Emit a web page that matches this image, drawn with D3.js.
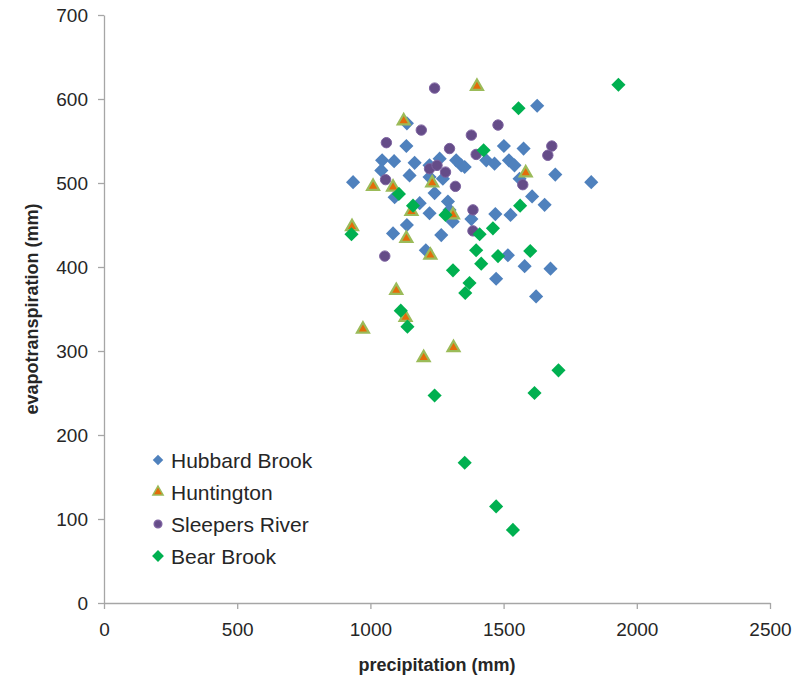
<!DOCTYPE html>
<html>
<head>
<meta charset="utf-8">
<script src="https://cdn.jsdelivr.net/npm/d3@7"></script>
<style>
  body { margin: 0; background: #fff; }
  text { font-family: "Liberation Sans", Arial, sans-serif; fill: #262626; }
</style>
</head>
<body>
<script>
const WIDTH = 802;
const HEIGHT = 680;

// plot box (pixels)
const LEFT = 104, RIGHT = 770, TOP = 15, BOTTOM = 603;

const xTicks = [0, 500, 1000, 1500, 2000, 2500];
const yTicks = [0, 100, 200, 300, 400, 500, 600, 700];

const seriesNames = ["Hubbard Brook", "Huntington", "Sleepers River", "Bear Brook"];

// [precipitation, evapotranspiration] in mm
const hubbardBrook = [
  [1137, 571], [1135, 544], [1044, 527], [1089, 526], [1166, 524], [1260, 529],
  [1222, 521], [1322, 527], [1341, 521], [1354, 519], [1435, 527], [1466, 523],
  [1520, 527], [1541, 521], [1501, 544], [1575, 541], [1626, 592], [1041, 515],
  [1147, 509], [1222, 507], [1272, 505], [935, 501], [1091, 483], [1241, 488],
  [1185, 476], [1291, 478], [1222, 464], [1297, 468], [1469, 463], [1526, 462],
  [1137, 450], [1379, 457], [1309, 454], [1560, 505], [1694, 510], [1829, 501],
  [1607, 484], [1654, 474], [1085, 440], [1266, 438], [1208, 420], [1516, 414],
  [1579, 401], [1676, 398], [1472, 386], [1622, 365]
];
const huntington = [
  [1400, 615], [1125, 574], [1010, 496], [1085, 495], [1232, 500], [1154, 466],
  [1310, 462], [931, 448], [1135, 434], [1225, 414], [1097, 372], [1132, 340],
  [972, 326], [1312, 304], [1200, 292], [1583, 512]
];
const sleepersRiver = [
  [1241, 613], [1191, 563], [1479, 569], [1379, 557], [1060, 548], [1297, 541],
  [1397, 534], [1681, 544], [1666, 533], [1222, 517], [1250, 521], [1282, 513],
  [1057, 504], [1319, 496], [1385, 468], [1572, 498], [1385, 443], [1054, 413]
];
const bearBrook = [
  [1931, 617], [1556, 589], [1425, 539], [1107, 487], [1160, 473], [1282, 462],
  [1460, 446], [1562, 473], [929, 439], [1410, 439], [1397, 420], [1479, 413],
  [1600, 419], [1416, 404], [1310, 396], [1372, 381], [1356, 369], [1114, 348],
  [1139, 329], [1706, 277], [1616, 250], [1241, 247], [1354, 167], [1472, 115],
  [1535, 87]
];

const svg = d3.select("body").append("svg")
  .attr("width", WIDTH)
  .attr("height", HEIGHT);

const xScale = d3.scaleLinear().domain([0, 2500]).range([LEFT, RIGHT]);
const yScale = d3.scaleLinear().domain([0, 700]).range([BOTTOM, TOP]);

// axes
const xAxis = d3.axisBottom(xScale).tickValues(xTicks).tickFormat(d3.format("d"))
  .tickSize(6).tickSizeOuter(0).tickPadding(14);
const yAxis = d3.axisLeft(yScale).tickValues(yTicks).tickFormat(d3.format("d"))
  .tickSize(6).tickSizeOuter(0).tickPadding(10);

const xg = svg.append("g").attr("transform", "translate(0," + BOTTOM + ")").call(xAxis);
const yg = svg.append("g").attr("transform", "translate(" + LEFT + ",0)").call(yAxis);

[xg, yg].forEach(g => {
  g.select(".domain").attr("stroke", "#a6a6a6").attr("stroke-width", 1.3);
  g.selectAll(".tick line").attr("stroke", "#a6a6a6").attr("stroke-width", 1.3);
  g.selectAll(".tick text")
    .attr("font-family", "'Liberation Sans', Arial, sans-serif")
    .attr("font-size", 19)
    .attr("fill", "#262626");
});

// axis titles
svg.append("text")
  .attr("x", (LEFT + RIGHT) / 2)
  .attr("y", 671)
  .attr("text-anchor", "middle")
  .attr("font-size", 18)
  .attr("font-weight", "bold")
  .text("precipitation (mm)");

svg.append("text")
  .attr("transform", "translate(38," + (TOP + BOTTOM) / 2 + ") rotate(-90)")
  .attr("text-anchor", "middle")
  .attr("font-size", 18)
  .attr("font-weight", "bold")
  .text("evapotranspiration (mm)");

// marker styles
const diamond = d3.symbol().type(d3.symbolSquare);
const triangle = d3.symbol().type(d3.symbolTriangle);
const circle = d3.symbol().type(d3.symbolCircle);

const styles = [
  { data: hubbardBrook, shape: diamond, size: 100, legendSize: 55, fill: "#4f81bd", stroke: "none", sw: 0, rot: 45 },
  { data: huntington, shape: triangle, size: 62, legendSize: 45, fill: "#e46c0a", stroke: "#9bbb59", sw: 2.2, rot: 0 },
  { data: sleepersRiver, shape: circle, size: 85, legendSize: 45, fill: "#654c88", stroke: "#7d62a0", sw: 1, rot: 0 },
  { data: bearBrook, shape: diamond, size: 100, legendSize: 70, fill: "#00b050", stroke: "none", sw: 0, rot: 45 }
];

styles.forEach(s => {
  svg.append("g").selectAll("path")
    .data(s.data)
    .join("path")
    .attr("d", s.shape.size(s.size)())
    .attr("transform", d => "translate(" + xScale(d[0]) + "," + yScale(d[1]) + ") rotate(" + s.rot + ")")
    .attr("fill", s.fill)
    .attr("stroke", s.stroke)
    .attr("stroke-width", s.sw);
});

// legend
const legend = svg.append("g").attr("transform", "translate(158,460)");
seriesNames.forEach((name, i) => {
  const s = styles[i];
  const row = legend.append("g").attr("transform", "translate(0," + i * 32 + ")");
  row.append("path")
    .attr("d", s.shape.size(s.legendSize)())
    .attr("transform", "rotate(" + s.rot + ")")
    .attr("fill", s.fill)
    .attr("stroke", s.stroke)
    .attr("stroke-width", s.sw ? 1.5 : 0);
  row.append("text")
    .attr("x", 13)
    .attr("y", 7.5)
    .attr("font-size", 21)
    .text(name);
});
</script>
</body>
</html>
